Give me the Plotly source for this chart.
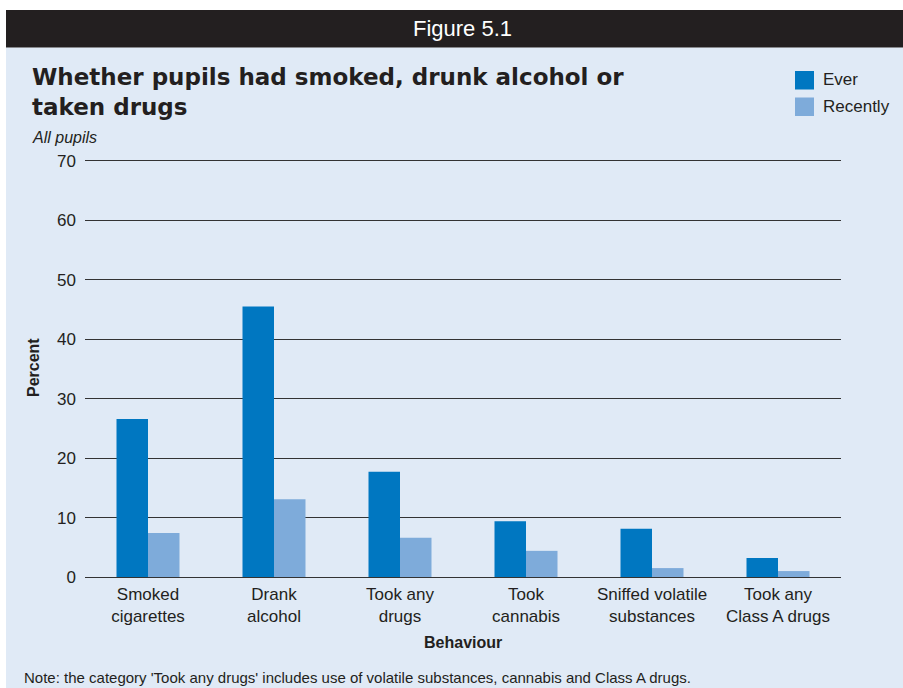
import plotly.graph_objects as go

# Survey results: share of pupils reporting each behaviour
categories = [
    "Smoked<br>cigarettes",
    "Drank<br>alcohol",
    "Took any<br>drugs",
    "Took<br>cannabis",
    "Sniffed volatile<br>substances",
    "Took any<br>Class A drugs",
]
series_names = ["Ever", "Recently"]
ever = [26.6, 45.5, 17.7, 9.4, 8.1, 3.2]
recently = [7.4, 13.1, 6.6, 4.4, 1.5, 1.0]
y_ticks = [0, 10, 20, 30, 40, 50, 60, 70]

colors = ["#0077c1", "#7eabda"]
ink = "#231f20"
panel = "#e0eaf6"
font_family = "Liberation Sans, Arial, Helvetica, sans-serif"

# Plot area geometry (pixels) used to place decorations in paper space
W, H = 903, 688
L, R, T, B = 85, 841, 158, 577


def px(x):
    return (x - L) / (R - L)


def py(y):
    return (B - y) / (B - T)


fig = go.Figure()
for name, vals, col in zip(series_names, [ever, recently], colors):
    fig.add_trace(go.Bar(
        x=categories, y=vals, name=name,
        marker=dict(color=col, line=dict(width=0)),
        showlegend=False, hoverinfo="x+y+name",
    ))

shapes = [
    # light blue panel
    dict(type="rect", xref="paper", yref="paper", x0=px(6), x1=px(W + 5),
         y0=py(H + 5), y1=py(47.5), fillcolor=panel, line=dict(width=0), layer="below"),
    # dark header band
    dict(type="rect", xref="paper", yref="paper", x0=px(6), x1=px(W + 5),
         y0=py(47.5), y1=py(10), fillcolor=ink, line=dict(width=0), layer="below"),
]

annotations = [
    dict(text="Figure 5.1", x=px(462), y=py(29), xref="paper", yref="paper",
         xanchor="center", yanchor="middle", showarrow=False,
         font=dict(size=22, color="white", family=font_family)),
    dict(text="<b>Whether pupils had smoked, drunk alcohol or<br>taken drugs</b>",
         x=px(30), y=py(62), xref="paper", yref="paper", xanchor="left", yanchor="top",
         align="left", showarrow=False,
         font=dict(size=23, color=ink, family="DejaVu Sans, Liberation Sans, sans-serif")),
    dict(text="<i>All pupils</i>", x=px(30), y=py(138), xref="paper", yref="paper",
         xanchor="left", yanchor="middle", showarrow=False,
         font=dict(size=16, color=ink, family=font_family)),
    dict(text="<b>Percent</b>", x=px(33), y=py(368), xref="paper", yref="paper",
         xanchor="center", yanchor="middle", textangle=-90, showarrow=False,
         font=dict(size=16, color=ink, family=font_family)),
    dict(text="<b>Behaviour</b>", x=px(463), y=py(642), xref="paper", yref="paper",
         xanchor="center", yanchor="middle", showarrow=False,
         font=dict(size=16, color=ink, family=font_family)),
    dict(text="Note: the category 'Took any drugs' includes use of volatile substances, cannabis and Class A drugs.",
         x=px(22), y=py(677), xref="paper", yref="paper", xanchor="left", yanchor="middle",
         showarrow=False, font=dict(size=15, color=ink, family=font_family)),
]

# Legend drawn as swatches with labels
for i, (name, col) in enumerate(zip(series_names, colors)):
    top = 71 + i * 26.5
    shapes.append(dict(type="rect", xref="paper", yref="paper",
                       x0=px(795), x1=px(814), y0=py(top + 18.5), y1=py(top),
                       fillcolor=col, line=dict(width=0)))
    annotations.append(dict(text=name, x=px(821), y=py(top + 9), xref="paper", yref="paper",
                            xanchor="left", yanchor="middle", showarrow=False,
                            font=dict(size=17, color=ink, family=font_family)))

fig.update_layout(
    width=W, height=H,
    margin=dict(l=L, r=W - R, t=T, b=H - B, pad=0),
    paper_bgcolor="white",
    plot_bgcolor="rgba(0,0,0,0)",
    barmode="group", bargap=0.5, bargroupgap=0,
    font=dict(family=font_family, color=ink, size=16),
    shapes=shapes, annotations=annotations,
    xaxis=dict(showgrid=False, showline=False, ticks="", zeroline=False,
               ticklabelstandoff=5,
               tickfont=dict(size=17, color=ink), fixedrange=True),
    yaxis=dict(range=[0, 70.5], tickvals=y_ticks, showgrid=True, gridcolor="#333333",
               gridwidth=1.3, zeroline=True, zerolinecolor="#333333", zerolinewidth=1.3,
               showline=False, ticks="", ticklabelstandoff=8,
               tickfont=dict(size=17, color=ink), fixedrange=True),
)

fig.write_html("out.html")
